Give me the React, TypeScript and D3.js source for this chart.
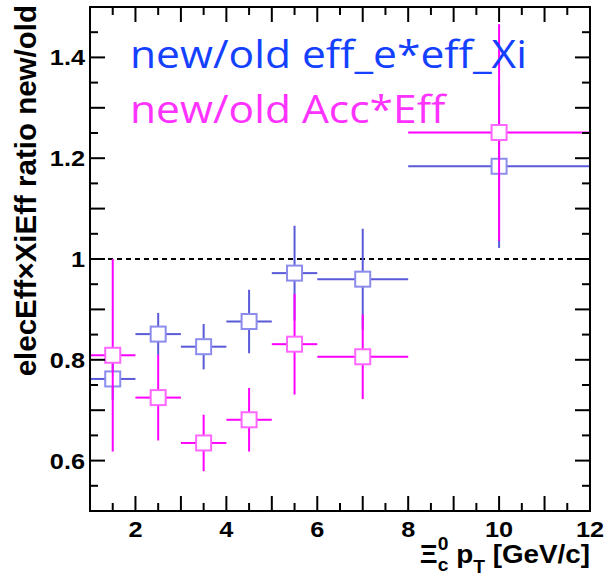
import React from "react";
import * as d3 from "d3";

// bins in pT (GeV/c)
const binLo = [1, 2, 3, 4, 5, 6, 8];
const binHi = [2, 3, 4, 5, 6, 8, 12];
const binMid = [1.5, 2.5, 3.5, 4.5, 5.5, 7, 10];

// new/old eff_e*eff_Xi
const effRatio = [0.762, 0.851, 0.826, 0.876, 0.972, 0.96, 1.184];
const effErr = [0.042, 0.042, 0.045, 0.063, 0.094, 0.1, 0.162];

// new/old Acc*Eff
const accRatio = [0.809, 0.725, 0.635, 0.681, 0.831, 0.806, 1.251];
const accErr = [0.191, 0.085, 0.056, 0.063, 0.1, 0.084, 0.215];

const xTicks = [2, 4, 6, 8, 10, 12];
const yTicks = [0.6, 0.8, 1, 1.2, 1.4];

// the whole picture looks stretched a bit sideways
const SX = 1.15;

export default function App() {
  const W = 607;
  const H = 582;
  const left = 90, right = 590, top = 7, bottom = 511;

  const x = d3.scaleLinear().domain([1, 12]).range([left, right]);
  const y = d3.scaleLinear().domain([0.5, 1.5]).range([bottom, top]);

  const xMinor = d3.range(1, 12.01, 0.5);
  const yMinor = d3.range(0.5, 1.501, 0.05);

  const series = [
    { vals: effRatio, errs: effErr, line: "#5a5ad8", box: "#8c8cec" },
    { vals: accRatio, errs: accErr, line: "#ff00ff", box: "#ff66ff" },
  ];
  const half = 7.5;

  return (
    <svg width={W} height={H} style={{ position: "absolute", left: 0, top: 0, background: "#fff" }}
      fontFamily="'Liberation Sans', Arial, sans-serif">
      {/* dashed line at 1 */}
      <line x1={x(1)} x2={x(12)} y1={y(1)} y2={y(1)} stroke="#000" strokeWidth={2} strokeDasharray="5,4" />

      {series.map((s, si) => (
        <g key={si}>
          {binMid.map((m, i) => {
            const cx = x(m), cy = y(s.vals[i]);
            const yt = y(s.vals[i] + s.errs[i]);
            const yb = y(s.vals[i] - s.errs[i]);
            return (
              <g key={i} stroke={s.line} strokeWidth={2}>
                <line x1={x(binLo[i])} x2={cx - half} y1={cy} y2={cy} />
                <line x1={cx + half} x2={x(binHi[i])} y1={cy} y2={cy} />
                <line x1={cx} x2={cx} y1={yt} y2={cy - half} />
                <line x1={cx} x2={cx} y1={cy + half} y2={yb} />
              </g>
            );
          })}
          {binMid.map((m, i) => (
            <rect key={"b" + i} x={x(m) - half} y={y(s.vals[i]) - half} width={half * 2} height={half * 2}
              fill="#fff" stroke={s.box} strokeWidth={2} />
          ))}
        </g>
      ))}

      {/* frame */}
      <rect x={left} y={top} width={right - left} height={bottom - top} fill="none" stroke="#000" strokeWidth={2} />

      {/* ticks */}
      {xMinor.map((t) => {
        const major = Math.abs(t - Math.round(t)) < 1e-6;
        const len = major ? 15 : 8;
        return (
          <g key={"xt" + t} stroke="#000" strokeWidth={2}>
            <line x1={x(t)} x2={x(t)} y1={bottom} y2={bottom - len} />
            <line x1={x(t)} x2={x(t)} y1={top} y2={top + len} />
          </g>
        );
      })}
      {yMinor.map((t) => {
        const major = Math.abs(t * 10 - Math.round(t * 10)) < 1e-6;
        const len = major ? 15 : 8;
        return (
          <g key={"yt" + t} stroke="#000" strokeWidth={2}>
            <line x1={left} x2={left + len} y1={y(t)} y2={y(t)} />
            <line x1={right} x2={right - len} y1={y(t)} y2={y(t)} />
          </g>
        );
      })}

      {xTicks.map((t) => (
        <text key={"xl" + t} transform={`translate(${x(t)},537) scale(${SX},1)`} textAnchor="middle"
          fontWeight="bold" fontSize={22}>{t}</text>
      ))}
      {yTicks.map((t) => (
        <text key={"yl" + t} transform={`translate(85,${y(t) + 8}) scale(${SX},1)`} textAnchor="end"
          fontWeight="bold" fontSize={22}>
          {t === 1 ? "1" : t.toFixed(1)}
        </text>
      ))}

      {/* axis titles */}
      <text transform="translate(36,5) rotate(-90)" textAnchor="end" fontWeight="bold" fontSize={29.5}>
        elecEff×XiEff ratio new/old
      </text>
      <text transform={`translate(590,563) scale(1.07,1)`} textAnchor="end" fontWeight="bold" fontSize={26}>
        <tspan>Ξ</tspan>
        <tspan fontSize={18} dy={8}>c</tspan>
        <tspan fontSize={18} dx={-10} dy={-21}>0</tspan>
        <tspan dy={13}>{"\u00a0p"}</tspan>
        <tspan fontSize={18} dy={10}>T</tspan>
        <tspan dy={-10}>{"\u00a0[GeV/c]"}</tspan>
      </text>

      {/* legend text */}
      <text transform="translate(130,68) scale(1.12,1)" fontFamily="'Open Sans', sans-serif" fontSize={38}
        fill="#1440ff">new/old eff_e*eff_Xi</text>
      <text transform="translate(130,123) scale(1.12,1)" fontFamily="'Open Sans', sans-serif" fontSize={38}
        fill="#ff33ff">new/old Acc*Eff</text>
    </svg>
  );
}
